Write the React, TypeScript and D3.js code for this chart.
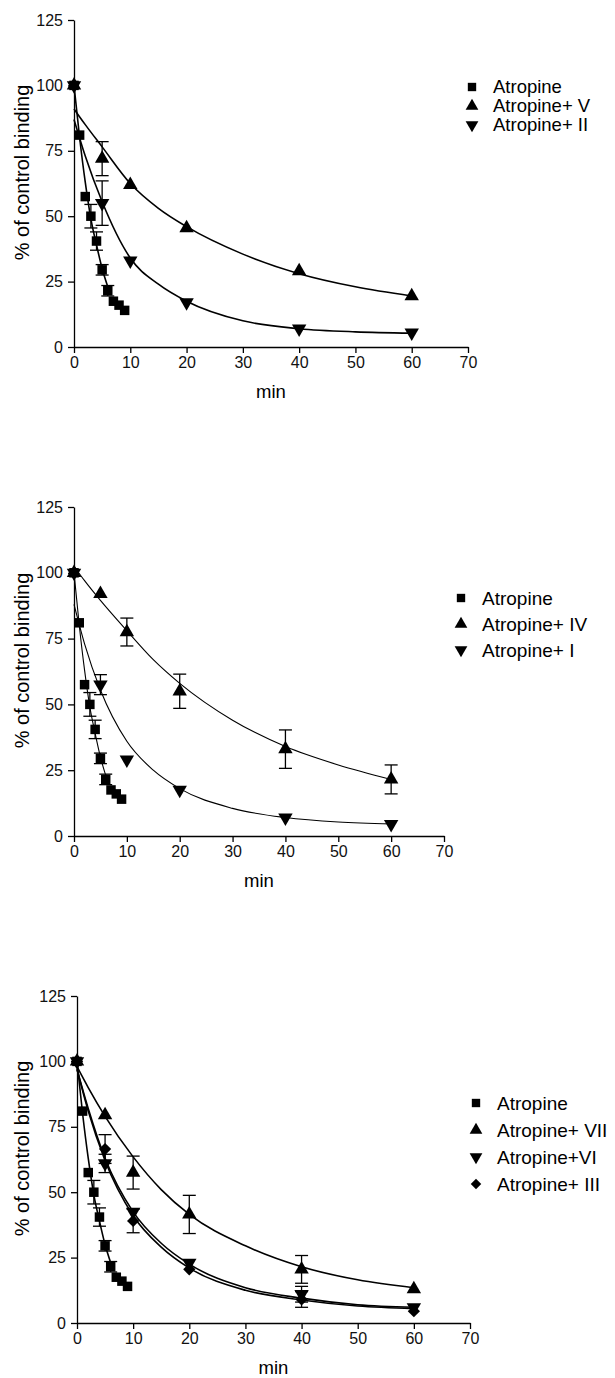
import React, { useEffect, useRef } from 'react';
import * as d3 from 'd3';

// sampling times (min)
const sampleTimes = [0, 5, 10, 20, 40, 60];
const atropineTimes = [0, 1, 2, 3, 4, 5, 6, 7, 8, 9];

// atropine alone (same in every panel)
const atropineMean = [100, 81, 57.5, 50, 40.5, 29.5, 21.5, 17.5, 16, 14];
const atropineErr = [0, 0, 0, 4.5, 3.5, 2, 2, 0, 0, 0];
const atropineFitTimes = [0, 1, 2, 3, 4, 5, 6];
const atropineFit = [100, 80, 63, 49, 39, 30, 23];

// fitted curves are read at these times
const fitTimes = [0, 2, 5, 10, 15, 20, 30, 40, 50, 60];

// panel A
const vMean = [100, 72, 62, 45.5, 29, 19.5];
const vErr = [0, 6.5, 0, 0, 0, 0];
const vFit = [91, 85, 76.5, 62.5, 53, 46, 35.5, 28, 23, 19.5];
const iiMean = [100, 55, 33, 17, 7, 5.5];
const iiErr = [0, 8.5, 0, 0, 0, 0];
const iiFit = [87, 73, 55.5, 34, 24, 17.5, 10, 7, 5.8, 5.3];

// panel B
const ivMean = [100, 92, 77.5, 55, 33, 21.5];
const ivErr = [0, 0, 5.3, 6.5, 7.3, 5.5];
const ivFit = [102.5, 97, 89.5, 78, 67, 58, 44, 34, 27, 21.5];
const iMean = [100, 57.5, 29, 17.5, 7, 4.5];
const iErr = [0, 3.8, 0, 0, 0, 0];
const iFit = [88, 73, 55.5, 36, 25, 18, 10.5, 7, 5.3, 4.6];

// panel C
const viiMean = [100, 79.5, 57.5, 41.5, 20.5, 13];
const viiErr = [0, 0, 6.3, 7.3, 5.3, 0];
const viiFit = [98, 90, 79, 63.5, 51, 41.5, 29.5, 21.5, 16.5, 13.5];
const viMean = [100, 61, 42.5, 23, 11, 6];
const viErr = [0, 3.5, 0, 0, 3, 0];
const viFit = [97, 82, 63, 42.5, 30.5, 22.5, 13.5, 9.5, 7, 6];
const iiiMean = [100, 66.5, 39, 20.5, 9, 4.5];
const iiiErr = [0, 5.5, 4.5, 0, 3, 0];
const iiiFit = [97, 81, 62, 41, 29, 21, 12.5, 8.8, 6.5, 5.5];

const xTicks = [0, 10, 20, 30, 40, 50, 60, 70];
const yTicks = [0, 25, 50, 75, 100, 125];

const FONT = '"Liberation Sans", Arial, Helvetica, sans-serif';

const atropine = {
  label: 'Atropine', shape: 'square',
  times: atropineTimes, mean: atropineMean, err: atropineErr,
  fitT: atropineFitTimes, fit: atropineFit,
};

const panels = [
  {
    left: 74, right: 468, top: 20, bottom: 347, stroke: 1.6,
    legendX: 472, legendRows: [87, 106, 125], legendFont: 18.5,
    series: [
      atropine,
      { label: 'Atropine+ V', shape: 'up', times: sampleTimes, mean: vMean, err: vErr, fitT: fitTimes, fit: vFit },
      { label: 'Atropine+ II', shape: 'down', times: sampleTimes, mean: iiMean, err: iiErr, fitT: fitTimes, fit: iiFit },
    ],
  },
  {
    left: 74, right: 444, top: 507, bottom: 836, stroke: 1.1,
    legendX: 461, legendRows: [598, 624, 650], legendFont: 19,
    series: [
      atropine,
      { label: 'Atropine+ IV', shape: 'up', times: sampleTimes, mean: ivMean, err: ivErr, fitT: fitTimes, fit: ivFit },
      { label: 'Atropine+ I', shape: 'down', times: sampleTimes, mean: iMean, err: iErr, fitT: fitTimes, fit: iFit },
    ],
  },
  {
    left: 77, right: 470, top: 996, bottom: 1323, stroke: 1.6,
    legendX: 476, legendRows: [1103, 1130, 1157, 1184], legendFont: 19,
    series: [
      atropine,
      { label: 'Atropine+ VII', shape: 'up', times: sampleTimes, mean: viiMean, err: viiErr, fitT: fitTimes, fit: viiFit },
      { label: 'Atropine+VI', shape: 'down', times: sampleTimes, mean: viMean, err: viErr, fitT: fitTimes, fit: viFit },
      { label: 'Atropine+ III', shape: 'diamond', times: sampleTimes, mean: iiiMean, err: iiiErr, fitT: fitTimes, fit: iiiFit },
    ],
  },
];

// symbol path + rotation for each marker shape
const markerPath = (shape: string, size: number) => {
  if (shape === 'square' || shape === 'diamond') return d3.symbol(d3.symbolSquare, size)();
  return d3.symbol(d3.symbolTriangle, size)();
};
const markerRotate = (shape: string) =>
  shape === 'down' ? 180 : shape === 'diamond' ? 45 : 0;

const App = () => {
  const svgRef = useRef<SVGSVGElement>(null);

  useEffect(() => {
    const root = d3.select(svgRef.current);
    root.selectAll('*').remove();

    panels.forEach((p) => {
      const x = d3.scaleLinear().domain([0, 70]).range([p.left, p.right]);
      const y = d3.scaleLinear().domain([0, 125]).range([p.bottom, p.top]);
      const g = root.append('g');

      // axes
      const xAxis = g.append('g')
        .attr('transform', `translate(0,${p.bottom})`)
        .call(d3.axisBottom(x).tickValues(xTicks).tickSize(6).tickPadding(4).tickSizeOuter(0));
      const yAxis = g.append('g')
        .attr('transform', `translate(${p.left},0)`)
        .call(d3.axisLeft(y).tickValues(yTicks).tickSize(6).tickPadding(5).tickSizeOuter(0));
      [xAxis, yAxis].forEach((a) => {
        a.selectAll('path,line').attr('stroke', '#000').attr('stroke-width', 1.3);
        a.selectAll('text').attr('font-family', FONT).attr('font-size', 16).attr('fill', '#111');
      });

      // axis titles
      g.append('text')
        .attr('transform', `translate(22,${(p.top + p.bottom) / 2 - 11}) rotate(-90)`)
        .attr('text-anchor', 'middle')
        .attr('dy', '0.35em')
        .attr('font-family', FONT)
        .attr('font-size', 20)
        .text('% of control binding');
      g.append('text')
        .attr('x', (p.left + p.right) / 2)
        .attr('y', p.bottom + 45)
        .attr('dy', '0.35em')
        .attr('text-anchor', 'middle')
        .attr('font-family', FONT)
        .attr('font-size', 18.5)
        .text('min');

      const line = d3.line<number>()
        .curve(d3.curveMonotoneX);

      p.series.forEach((s) => {
        // fitted curve
        g.append('path')
          .datum(s.fit)
          .attr('d', line.x((_, i) => x(s.fitT[i])).y((d) => y(d)))
          .attr('fill', 'none')
          .attr('stroke', '#000')
          .attr('stroke-width', p.stroke);

        // error bars
        const eb = s.times.map((t, i) => ({ t, m: s.mean[i], e: s.err[i] })).filter((d) => d.e > 0);
        const ebG = g.append('g').attr('stroke', '#000').attr('stroke-width', 1.3);
        ebG.selectAll('line.v').data(eb).join('line')
          .attr('x1', (d) => x(d.t)).attr('x2', (d) => x(d.t))
          .attr('y1', (d) => y(d.m + d.e)).attr('y2', (d) => y(d.m - d.e));
        [1, -1].forEach((sgn) => {
          ebG.selectAll(`line.c${sgn}`).data(eb).join('line')
            .attr('class', `c${sgn}`)
            .attr('x1', (d) => x(d.t) - 6.5).attr('x2', (d) => x(d.t) + 6.5)
            .attr('y1', (d) => y(d.m + sgn * d.e)).attr('y2', (d) => y(d.m + sgn * d.e));
        });

        // markers
        const size = s.shape === 'diamond' ? 75 : 90;
        g.append('g').selectAll('path')
          .data(s.times.map((t, i) => ({ t, m: s.mean[i] })))
          .join('path')
          .attr('d', markerPath(s.shape, size))
          .attr('transform', (d) => `translate(${x(d.t)},${y(d.m)}) rotate(${markerRotate(s.shape)})`)
          .attr('fill', '#000');
      });

      // legend
      p.series.forEach((s, i) => {
        const ly = p.legendRows[i];
        const lsize = s.shape === 'diamond' ? 55 : 70;
        g.append('path')
          .attr('d', markerPath(s.shape, lsize))
          .attr('transform', `translate(${p.legendX},${ly}) rotate(${markerRotate(s.shape)})`)
          .attr('fill', '#000');
        g.append('text')
          .attr('x', p.legendX + 21)
          .attr('y', ly)
          .attr('dy', '0.35em')
          .attr('font-family', FONT)
          .attr('font-size', p.legendFont)
          .text(s.label);
      });
    });
  }, []);

  return (
    <svg
      ref={svgRef}
      width={615}
      height={1378}
      style={{ position: 'absolute', left: 0, top: 0, background: '#fff' }}
    />
  );
};

export default App;
